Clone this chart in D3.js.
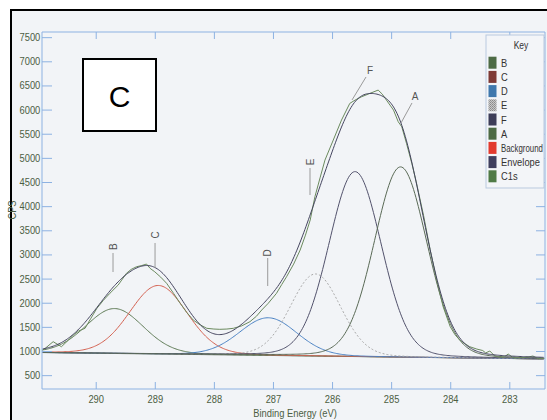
<!DOCTYPE html>
<html>
<head>
<meta charset="utf-8">
<script src="https://cdn.jsdelivr.net/npm/d3@7"></script>
<style>
  html, body { margin: 0; padding: 0; background: #ffffff; }
  svg { display: block; }
  text { font-family: "Liberation Sans", Arial, sans-serif; }
</style>
</head>
<body>
<svg id="chart" width="547" height="420"></svg>
<script>
// C1s spectrum: measured counts vs binding energy
const bindingEnergy = [
  290.91, 290.85, 290.72, 290.58, 290.46, 290.38, 290.29, 290.18, 290.08, 289.98,
  289.87, 289.76, 289.62, 289.48, 289.40, 289.31, 289.22, 289.14, 289.08, 289.00,
  288.90, 288.80, 288.68, 288.57, 288.46, 288.35, 288.23, 288.12, 288.00, 287.90,
  287.78, 287.67, 287.53, 287.39, 287.28, 287.19, 287.08, 286.94, 286.85, 286.77,
  286.65, 286.54, 286.45, 286.37, 286.29, 286.20, 286.12, 285.98, 285.84, 285.70,
  285.61, 285.50, 285.36, 285.22, 285.15, 285.08, 284.96, 284.88, 284.82, 284.74,
  284.65, 284.57, 284.45, 284.34, 284.23, 284.12, 284.00, 283.92, 283.84, 283.75,
  283.67, 283.55, 283.45, 283.40, 283.33, 283.25, 283.16, 283.08, 283.02, 282.93,
  282.80, 282.70, 282.60, 282.51, 282.40
];
const c1sCounts = [
  1010, 1060, 1193, 1089, 1228, 1330, 1414, 1470, 1680, 1884,
  2050, 2195, 2366, 2609, 2690, 2745, 2770, 2801, 2712, 2640,
  2530, 2402, 2190, 1988, 1800, 1642, 1540, 1470, 1455, 1449,
  1455, 1470, 1520, 1607, 1720, 1849, 1988, 2195, 2380, 2538,
  2800, 3091, 3400, 3712, 4195, 4600, 4954, 5368, 5783, 6128,
  6197, 6265, 6335, 6404, 6320, 6197, 5990, 5748, 5644, 5300,
  4886, 4472, 3800, 3100, 2470, 1917, 1503, 1340, 1228, 1150,
  1089, 1040, 1010, 960, 1000, 900, 869, 880, 938, 855,
  862, 870, 896, 841, 850
];

// Fitted components (pseudo-Voigt): centre (eV), height above background (CPS), FWHM (eV)
const componentNames   = ["B", "C", "D", "E", "F", "A"];
const componentCentres = [289.68, 288.94, 287.08, 286.28, 285.61, 284.84];
const componentHeights = [930, 1420, 780, 1700, 3830, 3940];
const componentFwhm    = [1.15, 1.15, 1.15, 1.0, 1.05, 1.05];
const lorentzFraction  = 0.1;

// Linear background end points (eV, CPS)
const backgroundEnergy = [290.91, 282.40];
const backgroundCounts = [968, 835];

// Axis ticks
const yTicks = [500, 1000, 1500, 2000, 2500, 3000, 3500, 4000, 4500, 5000, 5500, 6000, 6500, 7000, 7500];
const xTicks = [290, 289, 288, 287, 286, 285, 284, 283];

// Legend entries
const legendLabels = ["B", "C", "D", "E", "F", "A", "Background", "Envelope", "C1s"];
const legendColors = ["#4d6b45", "#7e3a36", "#3f78ad", "url(#dots)", "#3d3d58", "#4d6b45", "#e23a2e", "#3f3f5e", "#4f7a46"];

// Peak annotations: label and leader line in data units
const peakLabels = [
  { text: "B", rotate: true,  tx: 289.707, ty: 3160, x1: 289.707, y1: 3030, x2: 289.707, y2: 2636 },
  { text: "C", rotate: true,  tx: 288.996, ty: 3403, x1: 288.996, y1: 3237, x2: 288.996, y2: 2719 },
  { text: "D", rotate: true,  tx: 287.089, ty: 3030, x1: 287.089, y1: 2926, x2: 287.089, y2: 2346 },
  { text: "E", rotate: true,  tx: 286.373, ty: 4915, x1: 286.373, y1: 4790, x2: 286.373, y2: 4231 },
  { text: "F", rotate: false, tx: 285.358, ty: 6800, x1: 285.425, y1: 6675, x2: 285.662, y2: 6199 },
  { text: "A", rotate: false, tx: 284.596, ty: 6262, x1: 284.647, y1: 6137, x2: 284.833, y2: 5722 }
];

const svg = d3.select("#chart");
const W = 547, H = 420;
const plot = { left: 42, right: 545, top: 32, bottom: 389 };
const narrow = 0.85;   // horizontal squeeze for the axis and legend lettering

const x = d3.scaleLinear().domain([290.909, 282.396]).range([plot.left, plot.right]);
const y = d3.scaleLinear().domain([213, 7607]).range([plot.bottom, plot.top]);

const defs = svg.append("defs");
const pat = defs.append("pattern").attr("id", "dots").attr("width", 2).attr("height", 2)
  .attr("patternUnits", "userSpaceOnUse");
pat.append("rect").attr("width", 2).attr("height", 2).attr("fill", "#c8c8c8");
pat.append("rect").attr("width", 1).attr("height", 1).attr("fill", "#8a8a8a");
pat.append("rect").attr("x", 1).attr("y", 1).attr("width", 1).attr("height", 1).attr("fill", "#9a9a9a");

// Page and outer frame
svg.append("rect").attr("width", W).attr("height", H).attr("fill", "#ffffff");
svg.append("rect").attr("x", 11).attr("y", 10).attr("width", W + 10).attr("height", H + 10)
  .attr("fill", "#f2f4f7").attr("stroke", "#000").attr("stroke-width", 2);

const axisColor = "#8db2e2";
const textColor = "#4c5e43";

// Model curves
function pv(e, c, h, w) {
  const d = e - c;
  const g = Math.exp(-4 * Math.LN2 * d * d / (w * w));
  const l = 1 / (1 + 4 * d * d / (w * w));
  return h * ((1 - lorentzFraction) * g + lorentzFraction * l);
}
const bgScale = d3.scaleLinear().domain(backgroundEnergy).range(backgroundCounts);
const grid = d3.range(290.90, 282.40, -0.02);

const line = d3.line().x(d => x(d[0])).y(d => y(d[1])).curve(d3.curveLinear);

const g = svg.append("g");

// Background
g.append("path").datum(grid.map(e => [e, bgScale(e)]))
  .attr("d", line).attr("fill", "none").attr("stroke", "#5d6a58").attr("stroke-width", 1);

const compStyle = {
  B: { stroke: "#5e7a55", dash: null },
  C: { stroke: "#d4604f", dash: null },
  D: { stroke: "#4a82c4", dash: null },
  E: { stroke: "#a9a9a9", dash: "2,2" },
  F: { stroke: "#52526c", dash: null },
  A: { stroke: "#5a6a56", dash: null }
};

componentNames.forEach((name, i) => {
  const pts = grid.map(e => [e, bgScale(e) + pv(e, componentCentres[i], componentHeights[i], componentFwhm[i])]);
  g.append("path").datum(pts).attr("d", line).attr("fill", "none")
    .attr("stroke", compStyle[name].stroke).attr("stroke-width", 1)
    .attr("stroke-dasharray", compStyle[name].dash);
});

// Envelope
const envelope = grid.map(e => {
  let s = bgScale(e);
  componentNames.forEach((n, i) => { s += pv(e, componentCentres[i], componentHeights[i], componentFwhm[i]); });
  return [e, s];
});

// Raw data
g.append("path").datum(bindingEnergy.map((e, i) => [e, c1sCounts[i]]))
  .attr("d", line).attr("fill", "none").attr("stroke", "#6b8a5e").attr("stroke-width", 1);

g.append("path").datum(envelope).attr("d", line).attr("fill", "none")
  .attr("stroke", "#45455f").attr("stroke-width", 1);

// Axes frame
const axes = svg.append("g").attr("stroke", axisColor).attr("stroke-width", 1).attr("fill", "none");
axes.append("line").attr("x1", plot.left).attr("x2", plot.left).attr("y1", plot.top).attr("y2", plot.bottom);
axes.append("line").attr("x1", plot.right).attr("x2", plot.right).attr("y1", plot.top).attr("y2", plot.bottom);
axes.append("line").attr("x1", plot.left).attr("x2", plot.right).attr("y1", plot.top).attr("y2", plot.top);
axes.append("line").attr("x1", plot.left).attr("x2", plot.right).attr("y1", plot.bottom).attr("y2", plot.bottom);

// Left axis
const yAxis = d3.axisLeft(y).tickValues(yTicks).tickSize(-10).tickPadding(2).tickFormat(d3.format("d"));
const ya = svg.append("g").attr("transform", `translate(${plot.left},0)`).call(yAxis);
ya.select(".domain").remove();
ya.selectAll(".tick line").attr("stroke", axisColor);
ya.selectAll(".tick text").attr("fill", textColor).attr("font-size", 11)
  .attr("font-family", "Liberation Sans, Arial, sans-serif")
  .attr("transform", `scale(${narrow},1)`);

// Right axis ticks (inward)
const yr = svg.append("g").attr("transform", `translate(${plot.right},0)`)
  .call(d3.axisRight(y).tickValues(yTicks).tickSize(-9).tickFormat(""));
yr.select(".domain").remove();
yr.selectAll(".tick line").attr("stroke", axisColor);

// Bottom axis
const xAxis = d3.axisBottom(x).tickValues(xTicks).tickSize(-7).tickPadding(6).tickFormat(d3.format("d"));
const xa = svg.append("g").attr("transform", `translate(0,${plot.bottom})`).call(xAxis);
xa.select(".domain").remove();
xa.selectAll(".tick line").attr("stroke", axisColor);
xa.selectAll(".tick text").attr("fill", textColor).attr("font-size", 11)
  .attr("font-family", "Liberation Sans, Arial, sans-serif")
  .attr("transform", `scale(${narrow},1)`);

// Top axis ticks (inward)
const xt = svg.append("g").attr("transform", `translate(0,${plot.top})`)
  .call(d3.axisTop(x).tickValues(xTicks).tickSize(-7).tickFormat(""));
xt.select(".domain").remove();
xt.selectAll(".tick line").attr("stroke", axisColor);

// Axis titles
svg.append("text").attr("transform", `translate(295,417) scale(${narrow},1)`).attr("text-anchor", "middle")
  .attr("font-size", 11).attr("fill", textColor).text("Binding Energy (eV)");
svg.append("text").attr("transform", `translate(16,210) rotate(-90) scale(${narrow},1)`).attr("text-anchor", "middle")
  .attr("font-size", 11).attr("fill", textColor).text("CPS");

// Peak labels
const lab = svg.append("g");
peakLabels.forEach(p => {
  lab.append("line").attr("x1", x(p.x1)).attr("y1", y(p.y1)).attr("x2", x(p.x2)).attr("y2", y(p.y2))
    .attr("stroke", "#9a9a9a").attr("stroke-width", 1);
  const t = lab.append("text").attr("font-size", 10).attr("fill", "#555").attr("text-anchor", "middle")
    .attr("dominant-baseline", "central").text(p.text);
  if (p.rotate) t.attr("transform", `translate(${x(p.tx)},${y(p.ty)}) rotate(-90)`);
  else t.attr("x", x(p.tx)).attr("y", y(p.ty));
});

// Panel letter box
svg.append("rect").attr("x", 83).attr("y", 59).attr("width", 73).attr("height", 72)
  .attr("fill", "#ffffff").attr("stroke", "#000").attr("stroke-width", 2);
svg.append("text").attr("x", 119.5).attr("y", 96).attr("text-anchor", "middle")
  .attr("dominant-baseline", "central").attr("font-size", 30).attr("fill", "#000").text("C");

// Legend
const lg = svg.append("g");
lg.append("rect").attr("x", 486).attr("y", 35).attr("width", 58).attr("height", 153)
  .attr("fill", "#f3f5f8").attr("stroke", "#b9c9df").attr("stroke-width", 1);
lg.append("text").attr("transform", `translate(521,46) scale(${narrow},1)`).attr("text-anchor", "middle")
  .attr("dominant-baseline", "central").attr("font-size", 10).attr("fill", "#333").text("Key");
legendLabels.forEach((l, i) => {
  const cy = 62.7 + i * 14.2;
  lg.append("rect").attr("x", 488.5).attr("y", cy - 6).attr("width", 8).attr("height", 12)
    .attr("fill", legendColors[i]);
  const t = lg.append("text").attr("x", 501).attr("y", cy)
    .attr("dominant-baseline", "central")
    .attr("font-size", 11).attr("fill", "#333").text(l);
  // squeeze each entry so the longest one stays inside the page
  const w = t.node().getComputedTextLength() * narrow;
  t.attr("textLength", Math.min(w, 42)).attr("lengthAdjust", "spacingAndGlyphs");
});
</script>
</body>
</html>
